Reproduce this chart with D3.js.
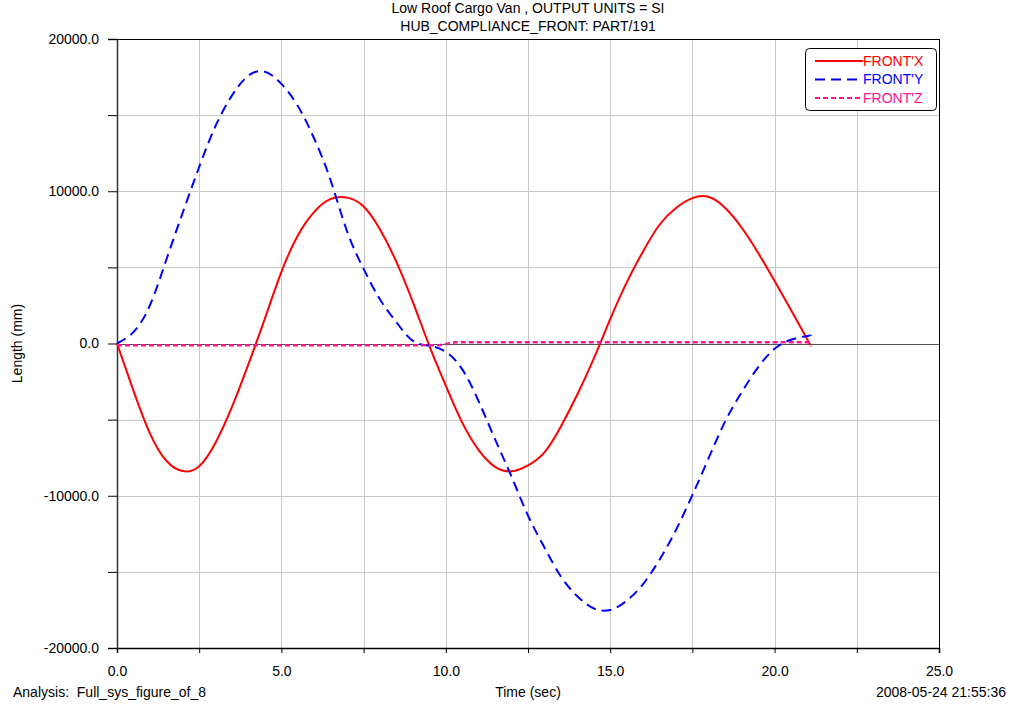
<!DOCTYPE html>
<html>
<head>
<meta charset="utf-8">
<script src="https://cdn.jsdelivr.net/npm/d3@7"></script>
<style>
	body { margin: 0; background: #fff; }
	text { font-family: "Liberation Sans", Arial, sans-serif; font-size: 14px; fill: #000; }
</style>
</head>
<body>
<div id="viz"></div>
<script>

// values (time in sec, length in mm)
var timeX = [0, 0.5, 1.0, 1.5, 2.0, 2.5, 3.0, 3.5, 4.0, 4.5, 5.0, 5.5, 6.0, 6.5, 7.0, 7.5, 8.0, 8.5, 9.0, 9.5,
	10.0, 10.5, 11.0, 11.5, 12.0, 12.5, 13.0, 13.5, 14.0, 14.5, 15.0, 15.5, 16.0, 16.5, 17.0, 17.5, 18.0,
	18.5, 19.0, 19.5, 20.0, 20.5, 21.0, 21.1];
var frontX = [0, -3100, -5900, -7700, -8380, -8060, -6500, -4150, -1340, 1650, 4700, 7100, 8650, 9500, 9580,
	9000, 7490, 5350, 2720, -150, -2770, -5200, -7000, -8100, -8390, -8000, -7150, -5450, -3350, -1000, 1600, 4000,
	6050, 7800, 8900, 9550, 9620, 8900, 7600, 5950, 4100, 2200, 250, -150];

var timeY = [0, 0.5, 1.0, 1.5, 2.0, 2.5, 3.0, 3.5, 4.0, 4.5, 5.0, 5.5, 6.0, 6.5, 7.0, 7.5, 8.0, 8.5, 9.0, 9.5,
	10.0, 10.5, 11.0, 11.5, 12.0, 12.5, 13.0, 13.5, 14.0, 14.5, 15.0, 15.5, 16.0, 16.5, 17.0, 17.5, 18.0,
	18.5, 19.0, 19.5, 20.0, 20.5, 21.0, 21.1];
var frontY = [0, 750, 2500, 5500, 8600, 11600, 14300, 16300, 17600, 17850, 17050, 15600, 13450, 10700, 7350,
	4900, 2890, 1390, 170, -150, -550, -1700, -3800, -6300, -8750, -11300, -13400, -15300, -16600, -17400,
	-17500, -16900, -15800, -14200, -12250, -9950, -7500, -5100, -3200, -1550, -350, 250, 500, 500];

var timeZ = [0, 9.8, 10.3, 21.1];
var frontZ = [-110, -110, 90, 90];

var seriesNames = ["FRONT'X", "FRONT'Y", "FRONT'Z"];
var seriesColors = ["#ff0000", "#0000ff", "#ff1493"];
var seriesDash = [null, "10,6", "5,3"];

var xTicks = [0, 2.5, 5, 7.5, 10, 12.5, 15, 17.5, 20, 22.5, 25];
var xLabels = [0, 5, 10, 15, 20, 25];
var yTicks = [-20000, -15000, -10000, -5000, 0, 5000, 10000, 15000, 20000];
var yLabels = [-20000, -10000, 0, 10000, 20000];

var titleLines = ["Low Roof Cargo Van , OUTPUT UNITS = SI", "HUB_COMPLIANCE_FRONT: PART/191"];

var width = 1013, height = 707;
var plotL = 117, plotR = 939, plotT = 39, plotB = 648;

var x = d3.scaleLinear().domain([0, 25]).range([plotL, plotR]);
var y = d3.scaleLinear().domain([-20000, 20000]).range([plotB, plotT]);

var svg = d3.select('#viz')
	.append('svg')
		.attr('width', width)
		.attr('height', height);

// grid
svg.append('g')
	.selectAll('line')
	.data(xTicks.slice(1, -1))
	.enter().append('line')
		.attr('x1', d => Math.round(x(d)) + 0.5).attr('x2', d => Math.round(x(d)) + 0.5)
		.attr('y1', plotT).attr('y2', plotB)
		.style('stroke', '#c8c8c8');
svg.append('g')
	.selectAll('line')
	.data(yTicks.filter(d => d != 0 && Math.abs(d) != 20000))
	.enter().append('line')
		.attr('x1', plotL).attr('x2', plotR)
		.attr('y1', d => Math.round(y(d)) + 0.5).attr('y2', d => Math.round(y(d)) + 0.5)
		.style('stroke', '#c8c8c8');

// frame and zero line
svg.append('line').attr('x1', plotL).attr('x2', plotR).attr('y1', plotT + 0.5).attr('y2', plotT + 0.5).style('stroke', '#000');
svg.append('line').attr('x1', plotR + 0.5).attr('x2', plotR + 0.5).attr('y1', plotT).attr('y2', plotB).style('stroke', '#000');
svg.append('line').attr('x1', plotL).attr('x2', plotR).attr('y1', Math.round(y(0)) + 0.5).attr('y2', Math.round(y(0)) + 0.5).style('stroke', '#555');

// axes
var xAxis = d3.axisBottom(x).tickValues(xTicks).tickSize(5).tickFormat(d => xLabels.indexOf(d) >= 0 ? d.toFixed(1) : '');
var gx = svg.append('g').attr('transform', 'translate(0,' + plotB + ')').call(xAxis);
gx.select('.domain').attr('stroke', '#000').attr('stroke-width', 1.5);
gx.selectAll('.tick text').attr('dy', 0).attr('y', 28).style('font-size', '14px').attr('font-family', null);

var yAxis = d3.axisLeft(y).tickValues(yTicks).tickSize(9).tickFormat(d => yLabels.indexOf(d) >= 0 ? d.toFixed(1) : '');
var gy = svg.append('g').attr('transform', 'translate(' + plotL + ',0)').call(yAxis);
gy.select('.domain').attr('stroke', '#333').attr('stroke-width', 1.5);
gy.selectAll('.tick text').attr('x', -18).style('font-size', '14px').attr('font-family', null);

// curves: smooth spline for X and Y, straight segments for the flat Z trace
var smooth = d3.line()
	.x(d => x(d[0]))
	.y(d => y(d[1]))
	.curve(d3.curveNatural);
var straight = d3.line()
	.x(d => x(d[0]))
	.y(d => y(d[1]));

var series = [d3.zip(timeX, frontX), d3.zip(timeY, frontY), d3.zip(timeZ, frontZ)];
series.forEach(function(pts, i) {
	svg.append('path')
		.datum(pts)
		.attr('d', i == 2 ? straight : smooth)
		.style('fill', 'none')
		.style('stroke', seriesColors[i])
		.style('stroke-width', i == 2 ? 2.5 : 2)
		.style('stroke-dasharray', seriesDash[i]);
});

// legend
var legend = svg.append('g').attr('transform', 'translate(805,48)');
legend.append('rect')
	.attr('x', 0.5).attr('y', 0.5)
	.attr('width', 131).attr('height', 62)
	.attr('rx', 4)
	.style('fill', '#fff')
	.style('stroke', '#000');
seriesNames.forEach(function(name, i) {
	var ly = 13 + i * 18.5;
	legend.append('line')
		.attr('x1', 10).attr('x2', 58)
		.attr('y1', ly).attr('y2', ly)
		.style('stroke', seriesColors[i])
		.style('stroke-width', 2)
		.style('stroke-dasharray', seriesDash[i]);
	legend.append('text')
		.attr('x', 58).attr('y', ly)
		.attr('dy', '0.35em')
		.style('fill', seriesColors[i])
		.text(name);
});

// titles and labels
svg.selectAll('.title')
	.data(titleLines)
	.enter().append('text')
		.attr('class', 'title')
		.attr('x', (plotL + plotR) / 2)
		.attr('y', (d, i) => 8 + i * 18)
		.attr('dy', '0.35em')
		.attr('text-anchor', 'middle')
		.text(d => d);

svg.append('text')
	.attr('transform', 'translate(17,' + y(0) + ') rotate(-90)')
	.attr('dy', '0.35em')
	.attr('text-anchor', 'middle')
	.text('Length (mm)');

svg.append('text')
	.attr('x', (plotL + plotR) / 2).attr('y', 692)
	.attr('dy', '0.35em')
	.attr('text-anchor', 'middle')
	.text('Time (sec)');

svg.append('text')
	.attr('x', 13).attr('y', 692)
	.attr('dy', '0.35em')
	.style('white-space', 'pre')
	.text('Analysis:  Full_sys_figure_of_8');

svg.append('text')
	.attr('x', 1006).attr('y', 692)
	.attr('dy', '0.35em')
	.attr('text-anchor', 'end')
	.text('2008-05-24 21:55:36');

</script>
</body>
</html>
